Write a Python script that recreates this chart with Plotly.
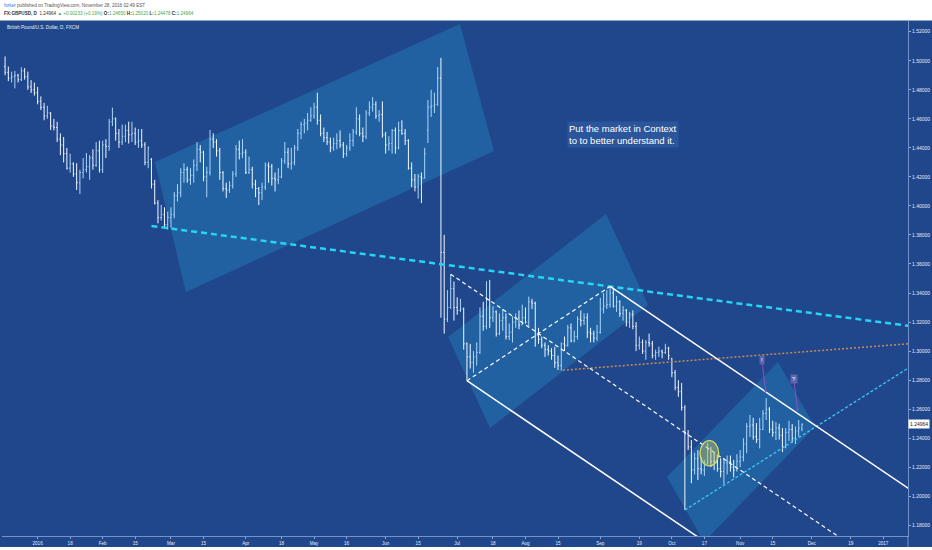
import pandas as pd
import plotly.graph_objects as go

# ---------------- data (GBPUSD daily, FXCM) ----------------
START_DATE = "2015-12-21"   # first bar (business-day calendar)

opens = [
    1.4960, 1.4920, 1.4880, 1.4890, 1.4900,  1.4870, 1.4930, 1.4890, 1.4820, 1.4800,
    1.4780, 1.4720, 1.4680, 1.4620, 1.4640,  1.4550, 1.4540, 1.4460, 1.4420, 1.4360,
    1.4260, 1.4290, 1.4220, 1.4160, 1.4230,  1.4250, 1.4270, 1.4330, 1.4280, 1.4380,
    1.4250, 1.4420, 1.4410, 1.4580, 1.4600,  1.4500, 1.4440, 1.4480, 1.4520, 1.4490,
    1.4500, 1.4440, 1.4450, 1.4420, 1.4300,  1.4320, 1.4150, 1.4020, 1.3920, 1.3940,
    1.3870, 1.3920, 1.3940, 1.4070, 1.4090,  1.4230, 1.4250, 1.4180, 1.4210, 1.4280,
    1.4390, 1.4370, 1.4200, 1.4230, 1.4460,  1.4440, 1.4380, 1.4230, 1.4120, 1.4110,
    1.4140, 1.4220, 1.4390, 1.4360, 1.4370,  1.4230, 1.4250, 1.4150, 1.4120, 1.4090,
    1.4130, 1.4280, 1.4270, 1.4190, 1.4180,  1.4200, 1.4310, 1.4370, 1.4290, 1.4300,
    1.4400, 1.4500, 1.4560, 1.4570, 1.4590,  1.4620, 1.4680, 1.4590, 1.4500, 1.4470,
    1.4440, 1.4400, 1.4430, 1.4450, 1.4420,  1.4360, 1.4400, 1.4450, 1.4510, 1.4600,
    1.4500, 1.4480, 1.4640, 1.4680, 1.4700,  1.4620, 1.4630, 1.4490, 1.4420, 1.4430,
    1.4520, 1.4400, 1.4520, 1.4500, 1.4450,  1.4260, 1.4180, 1.4130, 1.4200, 1.4190,
    1.4520, 1.4680, 1.4690, 1.4700, 1.4880,  1.3680, 1.3220, 1.3300, 1.3430, 1.3300,
    1.3280, 1.3290, 1.3050, 1.2960, 1.2920,  1.2960, 1.2990, 1.3240, 1.3170, 1.3350,
    1.3230, 1.3270, 1.3120, 1.3210, 1.3230,  1.3100, 1.3130, 1.3200, 1.3230, 1.3180,
    1.3230, 1.3200, 1.3340, 1.3330, 1.3110,  1.3080, 1.3040, 1.3010, 1.3000, 1.2970,
    1.2920, 1.2900, 1.3050, 1.3040, 1.3160,  1.3070, 1.3100, 1.3220, 1.3210, 1.3230,
    1.3130, 1.3120, 1.3090, 1.3130, 1.3290,  1.3310, 1.3320, 1.3400, 1.3310, 1.3340,
    1.3260, 1.3280, 1.3200, 1.3250, 1.3170,  1.3040, 1.3060, 1.3000, 1.3060, 1.3050,
    1.2970, 1.2990, 1.3000, 1.2990, 1.3020,  1.2950, 1.2850, 1.2750, 1.2720, 1.2610,
    1.2430, 1.2340, 1.2180, 1.2260, 1.2190,  1.2180, 1.2230, 1.2320, 1.2240, 1.2230,
    1.2190, 1.2170, 1.2230, 1.2240, 1.2200,  1.2180, 1.2240, 1.2270, 1.2360, 1.2480,
    1.2490, 1.2410, 1.2390, 1.2460, 1.2570,  1.2600, 1.2460, 1.2440, 1.2470, 1.2420,
    1.2340, 1.2440, 1.2460, 1.2400, 1.2450,  1.2465,
]
highs = [
    1.5030, 1.4960, 1.4925, 1.4930, 1.4910,  1.4955, 1.4950, 1.4925, 1.4867, 1.4850,
    1.4820, 1.4755, 1.4710, 1.4690, 1.4646,  1.4600, 1.4580, 1.4500, 1.4475, 1.4400,
    1.4360, 1.4300, 1.4294, 1.4250, 1.4330,  1.4364, 1.4350, 1.4390, 1.4440, 1.4450,
    1.4450, 1.4460, 1.4600, 1.4677, 1.4610,  1.4530, 1.4560, 1.4560, 1.4580, 1.4580,
    1.4540, 1.4530, 1.4530, 1.4440, 1.4410,  1.4330, 1.4180, 1.4040, 1.4007, 1.3990,
    1.3960, 1.3990, 1.4095, 1.4150, 1.4260,  1.4294, 1.4270, 1.4260, 1.4320, 1.4440,
    1.4420, 1.4380, 1.4270, 1.4523, 1.4500,  1.4460, 1.4400, 1.4240, 1.4160, 1.4170,
    1.4240, 1.4420, 1.4450, 1.4460, 1.4390,  1.4340, 1.4270, 1.4180, 1.4130, 1.4160,
    1.4300, 1.4300, 1.4290, 1.4230, 1.4260,  1.4330, 1.4440, 1.4400, 1.4400, 1.4420,
    1.4530, 1.4580, 1.4600, 1.4640, 1.4680,  1.4710, 1.4780, 1.4630, 1.4540, 1.4510,
    1.4470, 1.4470, 1.4500, 1.4520, 1.4440,  1.4420, 1.4500, 1.4530, 1.4680, 1.4630,
    1.4540, 1.4660, 1.4720, 1.4750, 1.4720,  1.4660, 1.4720, 1.4510, 1.4480, 1.4530,
    1.4540, 1.4580, 1.4590, 1.4530, 1.4460,  1.4300, 1.4220, 1.4220, 1.4230, 1.4400,
    1.4730, 1.4800, 1.4780, 1.4957, 1.5020,  1.3800, 1.3420, 1.3530, 1.3480, 1.3370,
    1.3360, 1.3300, 1.3060, 1.3050, 1.3000,  1.3060, 1.3300, 1.3340, 1.3481, 1.3490,
    1.3310, 1.3280, 1.3260, 1.3290, 1.3260,  1.3190, 1.3240, 1.3260, 1.3280, 1.3320,
    1.3300, 1.3375, 1.3360, 1.3340, 1.3160,  1.3100, 1.3060, 1.3040, 1.3020, 1.3030,
    1.2970, 1.3060, 1.3100, 1.3180, 1.3190,  1.3140, 1.3240, 1.3280, 1.3260, 1.3260,
    1.3160, 1.3140, 1.3180, 1.3366, 1.3400,  1.3420, 1.3445, 1.3430, 1.3380, 1.3350,
    1.3310, 1.3290, 1.3270, 1.3280, 1.3200,  1.3100, 1.3080, 1.3076, 1.3120, 1.3070,
    1.3010, 1.3030, 1.3010, 1.3050, 1.3030,  1.2952, 1.2870, 1.2800, 1.2780, 1.2627,
    1.2456, 1.2387, 1.2300, 1.2318, 1.2270,  1.2250, 1.2367, 1.2340, 1.2300, 1.2280,
    1.2262, 1.2262, 1.2280, 1.2280, 1.2250,  1.2290, 1.2318, 1.2400, 1.2504, 1.2560,
    1.2540, 1.2504, 1.2540, 1.2594, 1.2676,  1.2614, 1.2520, 1.2511, 1.2500, 1.2470,
    1.2470, 1.2520, 1.2497, 1.2480, 1.2525,  1.2502,
]
lows = [
    1.4900, 1.4860, 1.4850, 1.4810, 1.4850,  1.4860, 1.4870, 1.4800, 1.4778, 1.4760,
    1.4700, 1.4660, 1.4590, 1.4600, 1.4523,  1.4520, 1.4440, 1.4350, 1.4300, 1.4250,
    1.4230, 1.4200, 1.4110, 1.4082, 1.4190,  1.4230, 1.4180, 1.4250, 1.4270, 1.4230,
    1.4227, 1.4330, 1.4380, 1.4550, 1.4450,  1.4400, 1.4420, 1.4440, 1.4430, 1.4440,
    1.4420, 1.4400, 1.4400, 1.4280, 1.4260,  1.4120, 1.4010, 1.3880, 1.3900, 1.3850,
    1.3836, 1.3850, 1.3915, 1.4030, 1.4060,  1.4160, 1.4160, 1.4145, 1.4160, 1.4240,
    1.4300, 1.4170, 1.4060, 1.4210, 1.4400,  1.4340, 1.4180, 1.4100, 1.4055, 1.4090,
    1.4120, 1.4200, 1.4320, 1.4330, 1.4220,  1.4220, 1.4120, 1.4060, 1.4006, 1.4040,
    1.4110, 1.4160, 1.4140, 1.4100, 1.4150,  1.4190, 1.4290, 1.4260, 1.4250, 1.4280,
    1.4380, 1.4460, 1.4500, 1.4520, 1.4580,  1.4600, 1.4560, 1.4480, 1.4440, 1.4420,
    1.4370, 1.4380, 1.4390, 1.4400, 1.4330,  1.4340, 1.4380, 1.4410, 1.4490, 1.4480,
    1.4440, 1.4460, 1.4620, 1.4650, 1.4600,  1.4580, 1.4470, 1.4360, 1.4380, 1.4360,
    1.4360, 1.4390, 1.4490, 1.4420, 1.4250,  1.4130, 1.4100, 1.4050, 1.4020, 1.4190,
    1.4433, 1.4613, 1.4640, 1.4690, 1.3230,  1.3120, 1.3200, 1.3290, 1.3210, 1.3250,
    1.3270, 1.3010, 1.2796, 1.2880, 1.2850,  1.2900, 1.2980, 1.3140, 1.3150, 1.3160,
    1.3200, 1.3100, 1.3110, 1.3140, 1.3080,  1.3076, 1.3060, 1.3160, 1.3150, 1.3180,
    1.3190, 1.3170, 1.3290, 1.3030, 1.3050,  1.3020, 1.2960, 1.2970, 1.2940, 1.2885,
    1.2870, 1.2866, 1.3000, 1.3030, 1.3060,  1.3060, 1.3080, 1.3170, 1.3180, 1.3090,
    1.3060, 1.3060, 1.3070, 1.3120, 1.3260,  1.3290, 1.3300, 1.3300, 1.3270, 1.3236,
    1.3210, 1.3170, 1.3160, 1.3150, 1.3000,  1.3010, 1.2980, 1.2940, 1.3030, 1.2950,
    1.2940, 1.2960, 1.2950, 1.2980, 1.2940,  1.2820, 1.2730, 1.2685, 1.2590, 1.1905,
    1.2318, 1.2090, 1.2150, 1.2112, 1.2150,  1.2140, 1.2220, 1.2200, 1.2180, 1.2170,
    1.2130, 1.2083, 1.2150, 1.2170, 1.2130,  1.2170, 1.2200, 1.2240, 1.2297, 1.2408,
    1.2390, 1.2367, 1.2330, 1.2456, 1.2525,  1.2436, 1.2410, 1.2387, 1.2390, 1.2304,
    1.2330, 1.2380, 1.2367, 1.2360, 1.2410,  1.2448,
]
closes = [
    1.4920, 1.4880, 1.4890, 1.4900, 1.4870,  1.4930, 1.4890, 1.4820, 1.4800, 1.4780,
    1.4720, 1.4680, 1.4620, 1.4640, 1.4550,  1.4540, 1.4460, 1.4420, 1.4360, 1.4260,
    1.4290, 1.4220, 1.4160, 1.4230, 1.4250,  1.4270, 1.4330, 1.4280, 1.4380, 1.4250,
    1.4420, 1.4410, 1.4580, 1.4600, 1.4500,  1.4440, 1.4480, 1.4520, 1.4490, 1.4500,
    1.4440, 1.4450, 1.4420, 1.4300, 1.4400,  1.4150, 1.4020, 1.3920, 1.3940, 1.3870,
    1.3920, 1.3940, 1.4070, 1.4090, 1.4230,  1.4250, 1.4180, 1.4210, 1.4280, 1.4390,
    1.4370, 1.4200, 1.4230, 1.4460, 1.4440,  1.4380, 1.4230, 1.4120, 1.4110, 1.4140,
    1.4220, 1.4390, 1.4360, 1.4370, 1.4230,  1.4250, 1.4150, 1.4120, 1.4090, 1.4130,
    1.4280, 1.4270, 1.4190, 1.4180, 1.4200,  1.4310, 1.4370, 1.4290, 1.4300, 1.4400,
    1.4500, 1.4560, 1.4570, 1.4590, 1.4620,  1.4680, 1.4590, 1.4500, 1.4470, 1.4440,
    1.4400, 1.4430, 1.4450, 1.4420, 1.4360,  1.4400, 1.4450, 1.4510, 1.4600, 1.4500,
    1.4480, 1.4640, 1.4680, 1.4700, 1.4620,  1.4630, 1.4490, 1.4420, 1.4430, 1.4520,
    1.4400, 1.4520, 1.4500, 1.4450, 1.4260,  1.4180, 1.4130, 1.4200, 1.4190, 1.4360,
    1.4680, 1.4690, 1.4700, 1.4880, 1.3680,  1.3220, 1.3300, 1.3430, 1.3300, 1.3280,
    1.3290, 1.3050, 1.2960, 1.2920, 1.2960,  1.2990, 1.3240, 1.3170, 1.3350, 1.3230,
    1.3270, 1.3120, 1.3210, 1.3230, 1.3100,  1.3130, 1.3200, 1.3230, 1.3180, 1.3230,
    1.3200, 1.3340, 1.3330, 1.3110, 1.3080,  1.3040, 1.3010, 1.3000, 1.2970, 1.2920,
    1.2900, 1.3050, 1.3040, 1.3160, 1.3070,  1.3100, 1.3220, 1.3210, 1.3230, 1.3130,
    1.3120, 1.3090, 1.3130, 1.3290, 1.3310,  1.3320, 1.3400, 1.3310, 1.3340, 1.3260,
    1.3280, 1.3200, 1.3250, 1.3170, 1.3040,  1.3060, 1.3000, 1.3060, 1.3050, 1.2970,
    1.2990, 1.3000, 1.2990, 1.3020, 1.2970,  1.2850, 1.2750, 1.2720, 1.2610, 1.2430,
    1.2340, 1.2180, 1.2260, 1.2190, 1.2180,  1.2230, 1.2320, 1.2240, 1.2230, 1.2190,
    1.2170, 1.2230, 1.2240, 1.2200, 1.2180,  1.2240, 1.2270, 1.2360, 1.2480, 1.2490,
    1.2410, 1.2390, 1.2460, 1.2570, 1.2600,  1.2460, 1.2440, 1.2470, 1.2420, 1.2340,
    1.2440, 1.2460, 1.2400, 1.2450, 1.2470,  1.2496,
]

# time-axis labels
tick_dates = ["2016-01-04", "2016-01-18", "2016-02-01", "2016-02-15", "2016-03-01",
              "2016-03-15", "2016-04-01", "2016-04-18", "2016-05-02", "2016-05-16",
              "2016-06-01", "2016-06-15", "2016-07-01", "2016-07-18", "2016-08-01",
              "2016-08-15", "2016-09-01", "2016-09-19", "2016-10-03", "2016-10-17",
              "2016-11-01", "2016-11-15", "2016-12-01", "2016-12-19", "2017-01-02"]
tick_text = ["2016", "18", "Feb", "15", "Mar", "15", "Apr", "18", "May", "16", "Jun", "15",
             "Jul", "18", "Aug", "15", "Sep", "19", "Oct", "17", "Nov", "15", "Dec", "19", "2017"]
price_ticks = [1.18, 1.20, 1.22, 1.24, 1.26, 1.28, 1.30, 1.32, 1.34, 1.36, 1.38,
               1.40, 1.42, 1.44, 1.46, 1.48, 1.50, 1.52]
last_price = 1.24964

# drawing anchors: (bar position, price)
pitchfork_x = [137, 142, 186]
pitchfork_y = [1.3530, 1.2796, 1.3445]
cyan_trend_x = [50, 186]
cyan_trend_y = [1.3847, 1.3445]
orange_trend_x = [171.5, 277.6]
orange_trend_y = [1.2868, 1.3050]
support_x = [209, 277.6]
support_y = [1.1905, 1.2882]
box1 = [(46.06, 1.4302), (139.85, 1.5253), (150.3, 1.4378), (55.6, 1.3407)]
box2 = [(136.2, 1.3097), (184.75, 1.3944), (197.7, 1.3318), (149.1, 1.2470)]
box3 = [(203.5, 1.2133), (237.6, 1.2925), (249.0, 1.2477), (214.9, 1.1685)]
ellipse_x = [213.65, 219.4]
ellipse_y = [1.2209, 1.2383]
marks = [("!", 233.9, 1.2711), ("?", 243.7, 1.2583)]

# ---------------- figure ----------------
BG = "#20478b"
W, H = 932, 550
ML, MR, MT, MB = 2, 24, 21, 14
X_RANGE = [-0.95, 277.6]
Y_RANGE = [1.1726, 1.5274]

dates = pd.bdate_range(START_DATE, periods=320)
n = len(closes)
xs = list(range(n))
tick_pos = [int(dates.get_loc(pd.Timestamp(d))) for d in tick_dates]

fig = go.Figure()
fig.add_trace(go.Ohlc(
    x=xs, open=opens, high=highs, low=lows, close=closes,
    increasing=dict(line=dict(color="#a9d6fa", width=1)),
    decreasing=dict(line=dict(color="#f2f7ff", width=1)),
    tickwidth=0.3, hoverinfo="skip", showlegend=False,
    text=[d.strftime("%Y-%m-%d") for d in dates[:n]],
))

shapes = []


def poly(pts, fill):
    path = "M " + " L ".join(f"{a},{b}" for a, b in pts) + " Z"
    return dict(type="path", xref="x", yref="y", path=path, fillcolor=fill,
                line=dict(width=0), layer="below")


box_fill = "rgba(40,160,212,0.30)"
for b in (box1, box2, box3):
    shapes.append(poly(b, box_fill))


def seg(x0, y0, x1, y1, color, width, dash="solid"):
    return dict(type="line", xref="x", yref="y", x0=x0, y0=y0, x1=x1, y1=y1,
                line=dict(color=color, width=width, dash=dash), layer="above")


def extend(xa, ya, x_to):
    s = (ya[1] - ya[0]) / (xa[1] - xa[0])
    return ya[0] + s * (x_to - xa[0])


X_END = X_RANGE[1] + 3
# cyan dashed long trend
shapes.append(seg(45.0, extend(cyan_trend_x, cyan_trend_y, 45.0), X_END,
                  extend(cyan_trend_x, cyan_trend_y, X_END), "#27d4f2", 2.5, "6px,4px"))
# orange dotted
shapes.append(seg(orange_trend_x[0], orange_trend_y[0], X_END,
                  extend(orange_trend_x, orange_trend_y, X_END), "#c98c50", 1.5, "2px,2px"))
# cyan thin dotted support
shapes.append(seg(support_x[0], support_y[0], X_END,
                  extend(support_x, support_y, X_END), "#3fc6f2", 1.3, "3px,2px"))

# Andrews pitchfork
p1 = (pitchfork_x[0], pitchfork_y[0])
p2 = (pitchfork_x[1], pitchfork_y[1])
p3 = (pitchfork_x[2], pitchfork_y[2])
mid = ((p2[0] + p3[0]) / 2, (p2[1] + p3[1]) / 2)
slope = (mid[1] - p1[1]) / (mid[0] - p1[0])
shapes.append(seg(p1[0], p1[1], X_END, p1[1] + slope * (X_END - p1[0]), "white", 1.2, "4px,3px"))
shapes.append(seg(p2[0], p2[1], p3[0], p3[1], "white", 1.2, "4px,3px"))
shapes.append(seg(p2[0], p2[1], X_END, p2[1] + slope * (X_END - p2[0]), "white", 1.5))
shapes.append(seg(p3[0], p3[1], X_END, p3[1] + slope * (X_END - p3[0]), "white", 1.5))

# yellow ellipse
shapes.append(dict(type="circle", xref="x", yref="y", x0=ellipse_x[0], x1=ellipse_x[1],
                   y0=ellipse_y[0], y1=ellipse_y[1], fillcolor="rgba(190,195,90,0.45)",
                   line=dict(color="#d9d96a", width=1.3), layer="above"))


def px2paper(px, py):
    return (px - ML) / (W - ML - MR), (H - MB - py) / (H - MT - MB)


# white header strip and white bottom strip
_, ytop = px2paper(0, 20.5)
shapes.append(dict(type="rect", xref="paper", yref="paper", x0=-0.01, x1=1.05,
                   y0=ytop, y1=1.1, fillcolor="white", line=dict(width=0), layer="below"))
_, yb0 = px2paper(0, 547)
_, yb1 = px2paper(0, 552)
shapes.append(dict(type="rect", xref="paper", yref="paper", x0=-0.01, x1=1.05,
                   y0=yb1, y1=yb0, fillcolor="white", line=dict(width=0), layer="below"))
# pane separator continues through the time axis
xs_sep, _ = px2paper(908, 0)
shapes.append(dict(type="line", xref="paper", yref="paper", x0=xs_sep, x1=xs_sep,
                   y0=yb0, y1=0, line=dict(color="rgba(150,180,225,0.7)", width=1)))

annotations = []
FONT = "Liberation Sans, Arial, sans-serif"

hx, hy = px2paper(1.5, 5.5)
annotations.append(dict(
    xref="paper", yref="paper", x=hx, y=hy, xanchor="left", yanchor="middle",
    showarrow=False, font=dict(family=FONT, size=4.6, color="#555555"),
    text="<span style='color:#2a7be4'>forker</span> published on TradingView.com, November 28, 2016 02:49 EST"))
hx, hy = px2paper(1.5, 13.5)
G = "#3faa4a"
annotations.append(dict(
    xref="paper", yref="paper", x=hx, y=hy, xanchor="left", yanchor="middle",
    showarrow=False, font=dict(family=FONT, size=4.6, color="#333333"),
    text=(f"<b>FX:GBPUSD, D</b>  1.24964 <span style='color:{G}'>▲ +0.00233 (+0.19%)</span> "
          f"<b>O:</b><span style='color:{G}'>1.24650</span> <b>H:</b><span style='color:{G}'>1.25020</span> "
          f"<b>L:</b><span style='color:{G}'>1.24478</span> <b>C:</b><span style='color:{G}'>1.24964</span>")))
hx, hy = px2paper(5, 27.5)
annotations.append(dict(
    xref="paper", yref="paper", x=hx, y=hy, xanchor="left", yanchor="middle",
    showarrow=False, font=dict(family=FONT, size=4.6, color="#e8eefa"),
    text="British Pound/U.S. Dollar, D, FXCM"))

tx, ty = px2paper(567, 120.5)
annotations.append(dict(
    xref="paper", yref="paper", x=tx, y=ty, xanchor="left", yanchor="top",
    showarrow=False, align="left", font=dict(family=FONT, size=9.5, color="white"),
    bgcolor="rgba(70,115,185,0.35)", borderpad=1,
    text="Put the market in Context<br>to to better understand it."))

# "!" and "?" callouts
for label, mx, my in marks:
    annotations.append(dict(
        x=mx, y=my, xref="x", yref="y", text=label, showarrow=True,
        ax=-4, ay=-33, arrowcolor="#8e4fc6", arrowwidth=1, arrowhead=2, arrowsize=0.6,
        font=dict(family=FONT, size=6, color="white"), bgcolor="rgba(95,105,175,0.9)",
        borderpad=1))

# last price label
annotations.append(dict(
    xref="paper", yref="y", x=1.0, y=last_price, xanchor="left", yanchor="middle",
    showarrow=False, text=f"{last_price:.5f}", bgcolor="white",
    font=dict(family=FONT, size=5, color="#1a1a1a"), borderpad=1))

fig.update_layout(
    width=W, height=H,
    margin=dict(l=ML, r=MR, t=MT, b=MB, pad=0),
    paper_bgcolor=BG, plot_bgcolor=BG,
    showlegend=False, hovermode=False,
    shapes=shapes, annotations=annotations,
    xaxis=dict(range=X_RANGE, tickmode="array", tickvals=tick_pos, ticktext=tick_text,
               tickfont=dict(family=FONT, size=4.6, color="#e3ebf8"),
               ticks="outside", ticklen=2, tickcolor="rgba(170,195,230,0.8)",
               showgrid=False, zeroline=False, showline=True,
               linecolor="rgba(150,180,225,0.7)", linewidth=1,
               rangeslider=dict(visible=False), fixedrange=True),
    yaxis=dict(range=Y_RANGE, side="right", tickmode="array", tickvals=price_ticks,
               ticktext=[f"{v:.5f}" for v in price_ticks],
               tickfont=dict(family=FONT, size=5, color="#e3ebf8"),
               ticks="outside", ticklen=2, tickcolor="rgba(170,195,230,0.8)",
               showgrid=False, zeroline=False, showline=True,
               linecolor="rgba(150,180,225,0.7)", linewidth=1, fixedrange=True),
)

fig.write_html(
    "out.html",
    config={"displayModeBar": False, "staticPlot": True},
    post_script="document.body.style.margin='0';document.body.style.overflow='hidden';",
)
